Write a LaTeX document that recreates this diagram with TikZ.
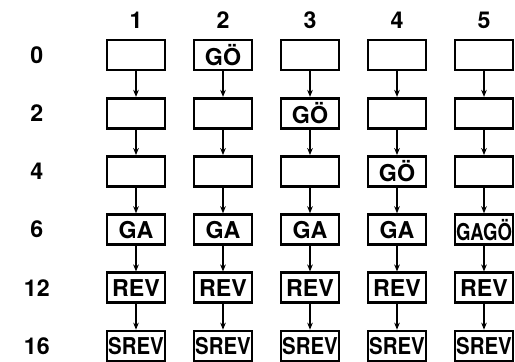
\documentclass[tikz,border=0pt]{standalone}
\usepackage{fontspec}
\setmainfont{TeX Gyre Heros}
\usepackage{graphicx}
\usetikzlibrary{arrows.meta}

\newcommand{\squeezed}[2]{\scalebox{#1}[1]{#2}}

\begin{document}
\begin{tikzpicture}[every node/.style={font=\fontsize{16.5}{18}\selectfont\bfseries},
  cell/.style={draw, line width=1.9pt, minimum width=1.45cm, minimum height=0.75cm, inner sep=0pt},
  tick/.style={-{Stealth[length=5pt, width=4pt]}, line width=1pt}]
  \useasboundingbox (0,0) rectangle (12.875,-9.025);

  % Column numbers
  \node (k1) at (3.4, -0.5) {1};
  \node (k2) at (5.575, -0.5) {2};
  \node (k3) at (7.75, -0.5) {3};
  \node (k4) at (9.925, -0.5) {4};
  \node (k5) at (12.1, -0.5) {5};

  % Row labels
  \node (t0) at (0.92, -1.375) {0};
  \node (t2) at (0.92, -2.83) {2};
  \node (t4) at (0.92, -4.285) {4};
  \node (t6) at (0.92, -5.74) {6};
  \node (t12) at (0.92, -7.195) {12};
  \node (t16) at (0.92, -8.65) {16};

  % Row 0
  \node[cell] (c1-0) at (3.4, -1.375) {};
  \node[cell] (c2-0) at (5.575, -1.375) {GÖ};
  \node[cell] (c3-0) at (7.75, -1.375) {};
  \node[cell] (c4-0) at (9.925, -1.375) {};
  \node[cell] (c5-0) at (12.1, -1.375) {};

  % Row 2
  \node[cell] (c1-2) at (3.4, -2.83) {};
  \node[cell] (c2-2) at (5.575, -2.83) {};
  \node[cell] (c3-2) at (7.75, -2.83) {GÖ};
  \node[cell] (c4-2) at (9.925, -2.83) {};
  \node[cell] (c5-2) at (12.1, -2.83) {};

  % Row 4
  \node[cell] (c1-4) at (3.4, -4.285) {};
  \node[cell] (c2-4) at (5.575, -4.285) {};
  \node[cell] (c3-4) at (7.75, -4.285) {};
  \node[cell] (c4-4) at (9.925, -4.285) {GÖ};
  \node[cell] (c5-4) at (12.1, -4.285) {};

  % Row 6
  \node[cell] (c1-6) at (3.4, -5.74) {GA};
  \node[cell] (c2-6) at (5.575, -5.74) {GA};
  \node[cell] (c3-6) at (7.75, -5.74) {GA};
  \node[cell] (c4-6) at (9.925, -5.74) {GA};
  \node[cell] (c5-6) at (12.1, -5.74) {\squeezed{0.8}{GAGÖ}};

  % Row 12
  \node[cell] (c1-12) at (3.4, -7.195) {REV};
  \node[cell] (c2-12) at (5.575, -7.195) {REV};
  \node[cell] (c3-12) at (7.75, -7.195) {REV};
  \node[cell] (c4-12) at (9.925, -7.195) {REV};
  \node[cell] (c5-12) at (12.1, -7.195) {REV};

  % Row 16
  \node[cell] (c1-16) at (3.4, -8.65) {\squeezed{0.88}{SREV}};
  \node[cell] (c2-16) at (5.575, -8.65) {\squeezed{0.88}{SREV}};
  \node[cell] (c3-16) at (7.75, -8.65) {\squeezed{0.88}{SREV}};
  \node[cell] (c4-16) at (9.925, -8.65) {\squeezed{0.88}{SREV}};
  \node[cell] (c5-16) at (12.1, -8.65) {\squeezed{0.88}{SREV}};

  % Arrows down each column
  \foreach \c in {1,...,5} {
    \draw[tick] (c\c-0) -- (c\c-2);
    \draw[tick] (c\c-2) -- (c\c-4);
    \draw[tick] (c\c-4) -- (c\c-6);
    \draw[tick] (c\c-6) -- (c\c-12);
    \draw[tick] (c\c-12) -- (c\c-16);
  }
\end{tikzpicture}
\end{document}
